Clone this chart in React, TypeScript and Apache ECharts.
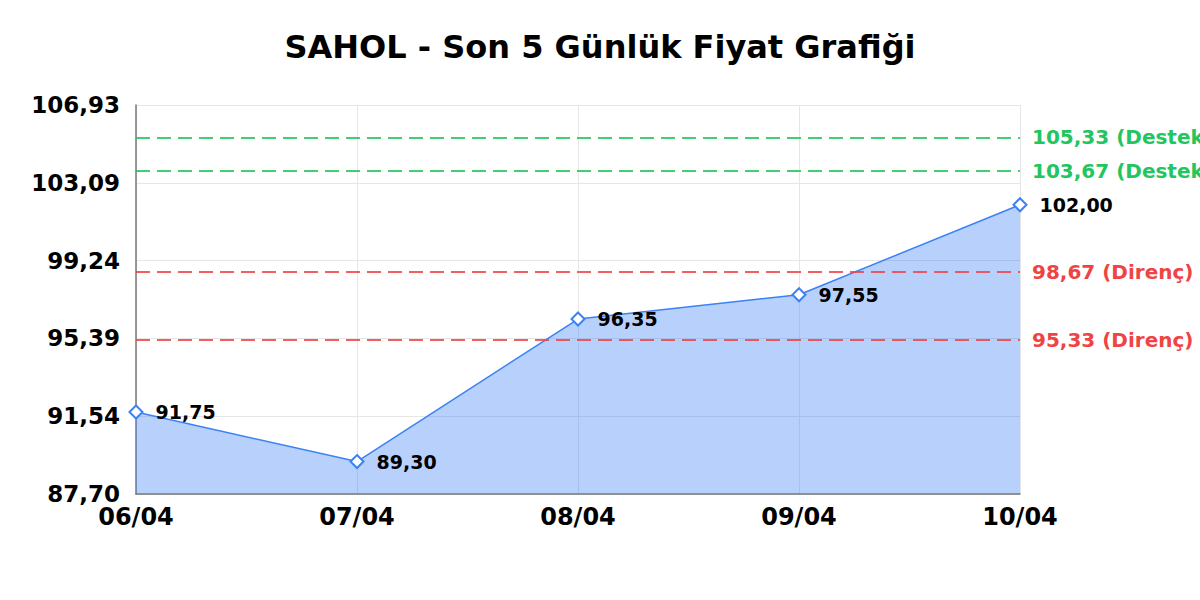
import { useEffect, useRef } from 'react';
import * as echarts from 'echarts';

const dates = ['06/04', '07/04', '08/04', '09/04', '10/04'];
const prices = [91.75, 89.3, 96.35, 97.55, 102.0];

const supportLevels = [105.33, 103.67];
const resistanceLevels = [98.67, 95.33];

// y axis range (87,70 .. 106,93 in five steps)
const yMin = 87.6965;
const yStep = 3.8474;
const yMax = yMin + yStep * 5;

const FONT = '"DejaVu Sans", sans-serif';
const fmt = (v: number) => v.toFixed(2).replace('.', ',');

const App = () => {
    const chartRef = useRef<HTMLDivElement>(null);

    useEffect(() => {
        const chart = echarts.init(chartRef.current!, null, { renderer: 'svg' });

        const lineLabel = (color: string, tag: string) => ({
            show: true,
            position: 'end',
            distance: 12,
            color,
            opacity: 1,
            fontFamily: FONT,
            fontWeight: 'bold',
            fontSize: 20,
            formatter: (p: any) => `${fmt(p.value)} (${tag})`,
        });

        chart.setOption({
            animation: false,
            backgroundColor: '#ffffff',
            title: {
                text: 'SAHOL - Son 5 Günlük Fiyat Grafiği',
                left: 'center',
                top: 26,
                textStyle: { fontFamily: FONT, fontWeight: 'bold', fontSize: 32, color: '#000' },
            },
            grid: { left: 136, right: 180, top: 105, bottom: 106, containLabel: false },
            xAxis: {
                type: 'category',
                data: dates,
                boundaryGap: false,
                axisLine: { lineStyle: { color: '#777', width: 1.5 } },
                axisTick: { show: false },
                axisLabel: {
                    color: '#000',
                    fontFamily: FONT,
                    fontWeight: 'bold',
                    fontSize: 24,
                    margin: 11,
                },
                splitLine: { show: true, lineStyle: { color: '#e6e6e6', width: 1 } },
            },
            yAxis: {
                type: 'value',
                min: yMin,
                max: yMax,
                interval: yStep,
                axisLine: { show: true, lineStyle: { color: '#777', width: 1.5 } },
                axisTick: { show: false },
                axisLabel: {
                    color: '#000',
                    fontFamily: FONT,
                    fontWeight: 'bold',
                    fontSize: 23,
                    margin: 16,
                    formatter: (v: number) => fmt(v),
                },
                splitLine: { show: true, lineStyle: { color: '#e6e6e6', width: 1 } },
            },
            series: [
                {
                    type: 'line',
                    data: prices,
                    symbol: 'emptyDiamond',
                    symbolSize: 13,
                    lineStyle: { color: '#3b82f6', width: 1.5 },
                    itemStyle: { color: '#3b82f6', borderWidth: 2.5 },
                    areaStyle: { color: '#3b82f6', opacity: 0.37, origin: 'start' },
                    label: {
                        show: true,
                        position: 'right',
                        distance: 12,
                        color: '#000',
                        fontFamily: FONT,
                        fontWeight: 'bold',
                        fontSize: 19,
                        formatter: (p: any) => fmt(p.value),
                    },
                    markLine: {
                        silent: true,
                        symbol: ['none', 'none'],
                        data: [
                            ...supportLevels.map((v) => ({
                                yAxis: v,
                                lineStyle: { color: 'rgba(34,197,94,0.85)', type: [14, 7], width: 2 },
                                label: lineLabel('#22c55e', 'Destek'),
                            })),
                            ...resistanceLevels.map((v) => ({
                                yAxis: v,
                                lineStyle: { color: 'rgba(239,68,68,0.85)', type: [14, 7], width: 2 },
                                label: lineLabel('#ef4444', 'Direnç'),
                            })),
                        ],
                    },
                },
            ],
        });

        return () => {
            chart.dispose();
        };
    }, []);

    return (
        <div
            ref={chartRef}
            style={{ position: 'absolute', left: 0, top: 0, width: '1200px', height: '600px' }}
        />
    );
};

export default App;
